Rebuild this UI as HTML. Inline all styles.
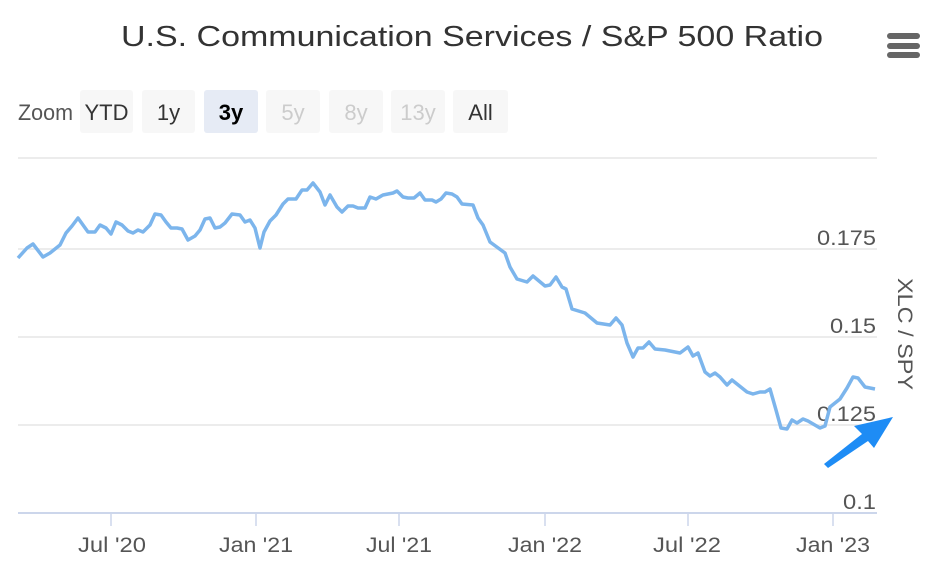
<!DOCTYPE html>
<html><head><meta charset="utf-8"><style>
body{margin:0;background:#fff;width:936px;height:574px;overflow:hidden;font-family:"Liberation Sans",sans-serif}
</style></head><body>
<svg width="936" height="574" xmlns="http://www.w3.org/2000/svg" font-family="Liberation Sans, sans-serif">
<text x="121" y="46" font-size="29" fill="#333" textLength="702" lengthAdjust="spacingAndGlyphs">U.S. Communication Services / S&amp;P 500 Ratio</text>
<g fill="#666"><rect x="887" y="33" width="33" height="6" rx="3"/><rect x="887" y="43" width="33" height="6" rx="3"/><rect x="887" y="52" width="33" height="6" rx="3"/></g>
<text x="18" y="120" font-size="22" fill="#555" textLength="55" lengthAdjust="spacingAndGlyphs">Zoom</text>
<g font-size="22" text-anchor="middle">
<rect x="80" y="90" width="53" height="43" rx="3" fill="#f7f7f7"/><text x="106.5" y="120" fill="#333">YTD</text>
<rect x="142" y="90" width="53" height="43" rx="3" fill="#f7f7f7"/><text x="168.5" y="120" fill="#333">1y</text>
<rect x="204" y="90" width="54" height="43" rx="3" fill="#e6ebf5"/><text x="231" y="120" fill="#000" font-weight="bold">3y</text>
<rect x="266" y="90" width="54" height="43" rx="3" fill="#f7f7f7"/><text x="293" y="120" fill="#ccc">5y</text>
<rect x="329" y="90" width="54" height="43" rx="3" fill="#f7f7f7"/><text x="356" y="120" fill="#ccc">8y</text>
<rect x="391" y="90" width="54" height="43" rx="3" fill="#f7f7f7"/><text x="418" y="120" fill="#ccc">13y</text>
<rect x="453" y="90" width="55" height="43" rx="3" fill="#f7f7f7"/><text x="480.5" y="120" fill="#333">All</text>
</g>
<g stroke="#e6e6e6" stroke-width="1.5">
<line x1="18" y1="158" x2="877" y2="158"/><line x1="18" y1="249" x2="877" y2="249"/><line x1="18" y1="337" x2="877" y2="337"/><line x1="18" y1="425" x2="877" y2="425"/>
</g>
<line x1="18" y1="513" x2="877" y2="513" stroke="#ccd6eb" stroke-width="2"/>
<g stroke="#ccd6eb" stroke-width="1.5"><line x1="111" y1="513" x2="111" y2="526"/><line x1="256" y1="513" x2="256" y2="526"/><line x1="399" y1="513" x2="399" y2="526"/><line x1="545" y1="513" x2="545" y2="526"/><line x1="688" y1="513" x2="688" y2="526"/><line x1="833" y1="513" x2="833" y2="526"/></g>
<g font-size="21" fill="#555">
<text x="78" y="552" textLength="68" lengthAdjust="spacingAndGlyphs">Jul '20</text><text x="219" y="552" textLength="74" lengthAdjust="spacingAndGlyphs">Jan '21</text><text x="366" y="552" textLength="66" lengthAdjust="spacingAndGlyphs">Jul '21</text><text x="508" y="552" textLength="74" lengthAdjust="spacingAndGlyphs">Jan '22</text><text x="653" y="552" textLength="68" lengthAdjust="spacingAndGlyphs">Jul '22</text><text x="796" y="552" textLength="74" lengthAdjust="spacingAndGlyphs">Jan '23</text>
</g>
<g font-size="21" fill="#555">
<text x="817" y="245" textLength="59" lengthAdjust="spacingAndGlyphs">0.175</text><text x="830" y="333" textLength="46" lengthAdjust="spacingAndGlyphs">0.15</text><text x="817" y="421" textLength="59" lengthAdjust="spacingAndGlyphs">0.125</text><text x="843" y="509" textLength="33" lengthAdjust="spacingAndGlyphs">0.1</text>
</g>
<text transform="translate(898,278) rotate(90)" font-size="21" fill="#555" textLength="112" lengthAdjust="spacingAndGlyphs">XLC / SPY</text>
<polyline fill="none" stroke="#7cb5ec" stroke-width="3.5" stroke-linejoin="round" points="18,258 27,248 33,244 43,257 50,253 60,245 66,233 72,226 78,218 88,232 95,232 100,225 106,228 111,234 116,222 122,225 128,231 133,233 138,230 143,232 150,225 155,214 161,215 166,222 171,228 177,228 182,229 188,240 195,236 200,230 205,219 210,218 215,228 220,227 225,223 232,214 240,215 245,222 250,220 255,228 260,248 264,232 270,221 276,215 283,204 288,199 296,199 302,190 307,190 313,183 320,192 325,205 330,195 337,207 342,212 348,206 353,206 358,208 365,208 370,197 376,199 383,195 393,193 397,191 403,197 408,198 414,198 420,193 425,200 432,200 436,202 441,199 446,193 452,194 457,197 462,204 473,205 478,218 483,225 490,242 505,253 510,267 517,279 527,282 533,276 545,286 550,285 556,277 562,287 566,289 572,309 585,313 597,323 610,325 616,318 622,325 627,343 633,357 638,348 643,348 649,342 655,349 665,350 680,353 688,347 693,356 698,353 705,372 710,376 715,373 720,377 727,385 732,380 747,392 753,394 760,392 765,392 770,389 776,410 781,428 787,429 792,420 797,423 803,419 808,421 820,428 825,426 830,407 840,399 847,388 853,377 858,378 865,387 875,389"/>
<polygon points="824,464 862,434 854,426 893,417 874,448 868,441 828,468" fill="#1e8cf5"/>
</svg>
</body></html>
